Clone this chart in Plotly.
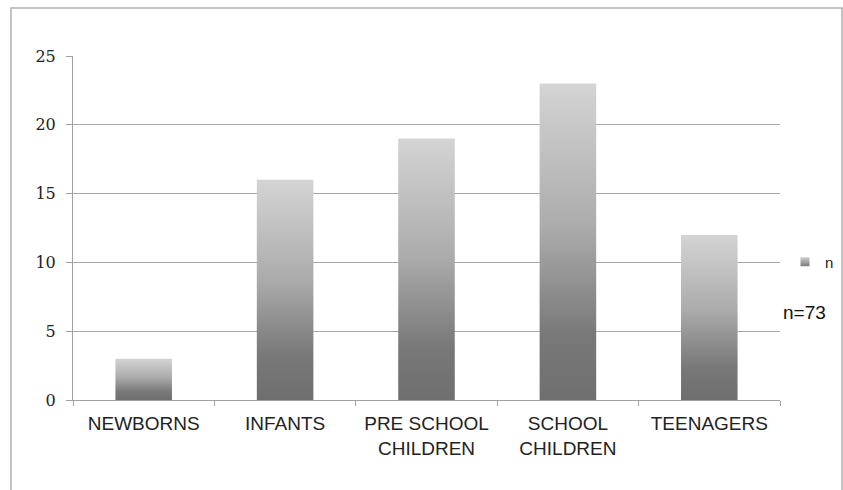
import plotly.graph_objects as go

categories = ["NEWBORNS", "INFANTS", "PRE SCHOOL<br>CHILDREN", "SCHOOL<br>CHILDREN", "TEENAGERS"]
values = [3, 16, 19, 23, 12]
series_name = "n"
y_ticks = [0, 5, 10, 15, 20, 25]
note = "n=73"

BAR_W = 0.4
grad = [[0, "#6f6f6f"], [0.2, "#787878"], [0.55, "#acacac"], [1, "#d4d4d4"]]

fig = go.Figure()
for i, (c, v) in enumerate(zip(categories, values)):
    xs = [i - BAR_W / 2, i + BAR_W / 2, i + BAR_W / 2, i - BAR_W / 2, i - BAR_W / 2]
    ys = [0, 0, v, v, 0]
    fig.add_trace(go.Scatter(
        x=xs, y=ys, mode="lines", fill="toself",
        line=dict(width=0, color="#a0a0a0"),
        fillgradient=dict(type="vertical", colorscale=grad),
        name=series_name, showlegend=False,
        hoverinfo="skip",
    ))

# legend entry (square swatch)
fig.add_trace(go.Scatter(
    x=[None], y=[None], mode="markers", name=series_name,
    marker=dict(symbol="square", size=9, color="#cfcfcf",
                gradient=dict(type="vertical", color="#7a7a7a"),
                line=dict(width=0)),
    showlegend=True,
))

W, H = 843, 490
L, R, T, B = 73, 63, 56, 90
pw, ph = W - L - R, H - T - B

fig.update_layout(
    width=W, height=H,
    margin=dict(l=L, r=R, t=T, b=B, autoexpand=False),
    paper_bgcolor="white", plot_bgcolor="white",
    showlegend=True,
    legend=dict(x=(785 - L) / pw, y=((H - B) - 262) / ph, xanchor="left", yanchor="middle",
                font=dict(family="Liberation Sans, Arial", size=15, color="#222"),
                bgcolor="rgba(0,0,0,0)", itemwidth=30),
    xaxis=dict(
        range=[-0.5, len(categories) - 0.5],
        tickvals=list(range(len(categories))), ticktext=categories,
        ticks="outside", ticklen=6, tickcolor="rgba(0,0,0,0)",
        minor=dict(ticks="outside", tick0=-0.5, dtick=1, ticklen=5,
                   tickcolor="#a0a0a0", showgrid=False),
        showline=True, linecolor="#a0a0a0", linewidth=1,
        showgrid=False, zeroline=False,
        tickfont=dict(family="Liberation Sans, Arial", size=19, color="#222"),
    ),
    yaxis=dict(
        range=[0, 25], tickvals=y_ticks,
        ticks="outside", ticklen=6, tickcolor="#a0a0a0",
        ticklabelstandoff=7,
        showline=True, linecolor="#a0a0a0", linewidth=1,
        showgrid=True, gridcolor="#a8a8a8", gridwidth=1,
        zeroline=False,
        tickfont=dict(family="DejaVu Serif, Cambria, serif", size=16, color="#222"),
    ),
    shapes=[dict(
        type="rect", xref="paper", yref="paper",
        x0=(11 - L) / pw, x1=(842 - L) / pw,
        y0=-(500 - (H - B)) / ph, y1=((H - B) - 8) / ph,
        line=dict(color="#b0b0b0", width=1.5), fillcolor="rgba(0,0,0,0)",
        layer="below",
    )],
    annotations=[dict(
        text=note, xref="paper", yref="paper",
        x=(781 - L) / pw, y=((H - B) - 312) / ph,
        xanchor="left", yanchor="middle", showarrow=False,
        font=dict(family="Liberation Sans, Arial", size=19, color="#111"),
    )],
)

fig.write_html("out.html")
